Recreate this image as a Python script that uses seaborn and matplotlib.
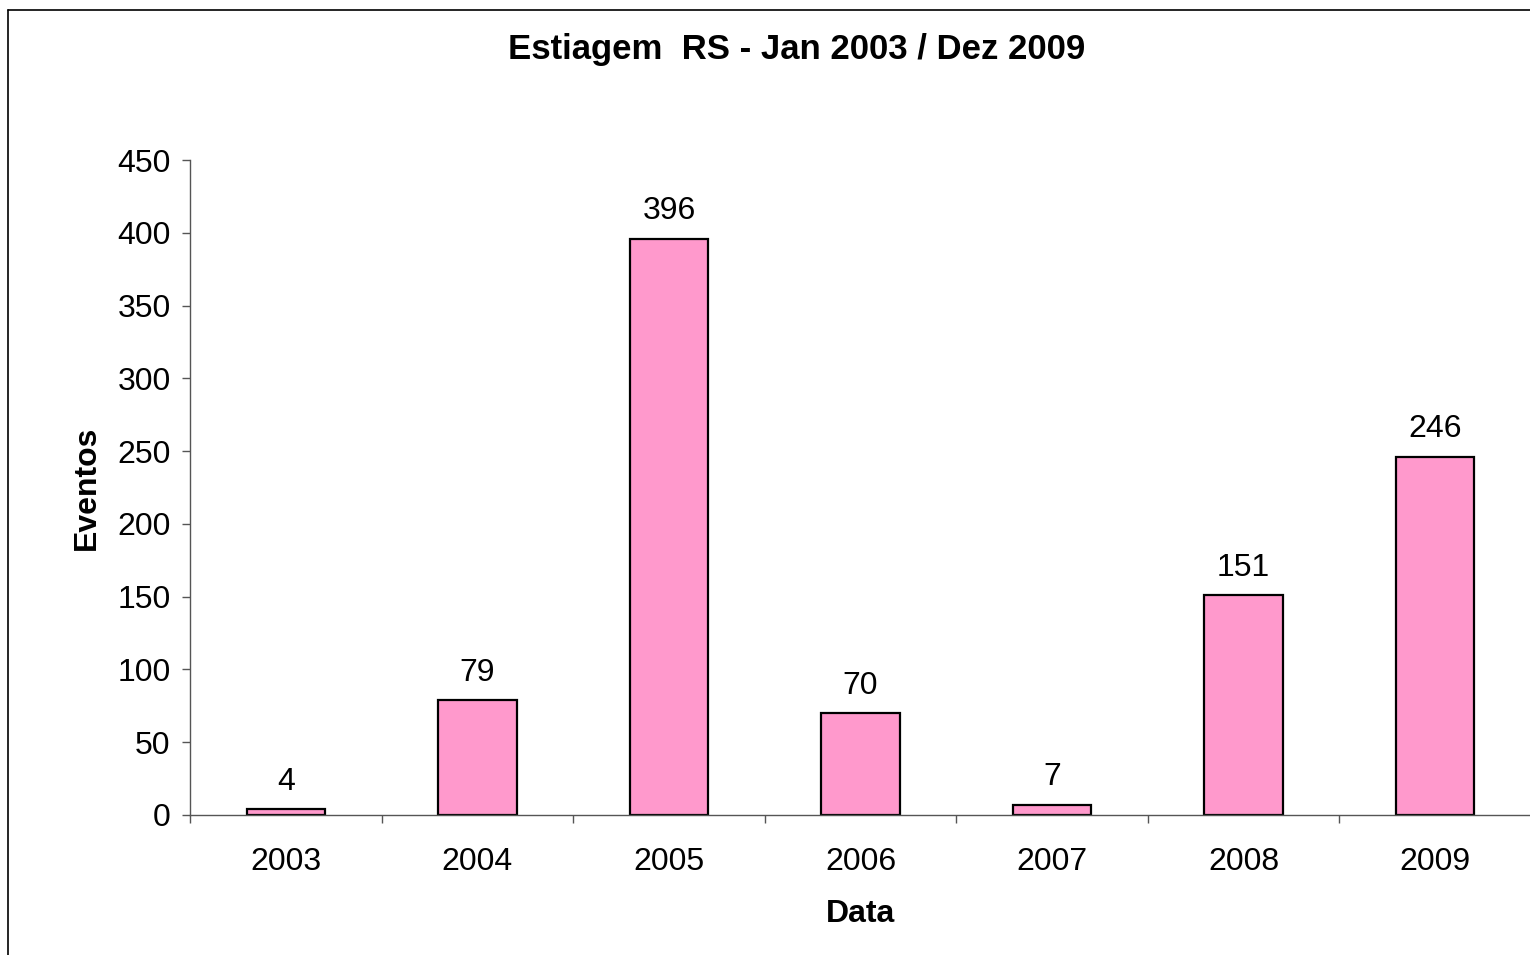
import matplotlib
matplotlib.use("Agg")
import matplotlib.pyplot as plt
import seaborn as sns
import pandas as pd
import numpy as np
from matplotlib.lines import Line2D

years = ["2003", "2004", "2005", "2006", "2007", "2008", "2009"]
eventos = [4, 79, 396, 70, 7, 151, 246]
y_ticks = [0, 50, 100, 150, 200, 250, 300, 350, 400, 450]

sns.set_theme(style="white")
plt.rcParams['font.family'] = ['Liberation Sans', 'DejaVu Sans']
plt.rcParams['text.color'] = 'black'
plt.rcParams['axes.labelcolor'] = 'black'
plt.rcParams['xtick.color'] = 'black'
plt.rcParams['ytick.color'] = 'black'

W, H = 1530, 955
fig = plt.figure(figsize=(W / 100, H / 100), dpi=100)
ax = fig.add_axes([190 / W, 1 - 815 / H, (1531 - 190) / W, (815 - 160) / H])

df = pd.DataFrame({"Data": years, "Eventos": eventos})
sns.barplot(data=df, x="Data", y="Eventos", color="#FF99CC", width=0.41,
            edgecolor="black", linewidth=1.6, saturation=1, ax=ax)

ax.set_xlim(-0.5, len(years) - 0.5)
ax.set_ylim(0, 450)
ax.set_yticks(y_ticks)
ax.tick_params(axis="y", which="major", direction="out", length=6, width=1,
               color="#555555", labelcolor="black", labelsize=23, left=True, pad=8)
ax.tick_params(axis="x", which="major", length=0, labelsize=23, labelcolor="black", pad=23)
ax.set_xticks(np.arange(-0.5, len(years) + 0.5, 1), minor=True)
ax.tick_params(axis="x", which="minor", direction="out", length=6, width=1,
               color="#555555", bottom=True)

for s in ["top", "right"]:
    ax.spines[s].set_visible(False)
for s in ["left", "bottom"]:
    ax.spines[s].set_color("#555555")
    ax.spines[s].set_linewidth(1)

for i, v in enumerate(eventos):
    ax.annotate(str(v), (i, v), xytext=(0, 9), textcoords="offset points",
                ha="center", va="bottom", fontsize=23, color="black")

ax.set_xlabel("Data", fontsize=23, fontweight="bold", labelpad=16, color="black")
ax.set_ylabel("Eventos", fontsize=23, fontweight="bold", labelpad=11, color="black")

fig.text(797 / W, 1 - 49 / H, "Estiagem  RS - Jan 2003 / Dez 2009",
         ha="center", va="center", fontsize=25, fontweight="bold", color="black")

# outer chart frame (left and top edges visible)
fig.add_artist(Line2D([8 / W, 8 / W], [0, 1 - 10 / H], transform=fig.transFigure,
                      color="black", lw=1.2))
fig.add_artist(Line2D([8 / W, 1], [1 - 10 / H, 1 - 10 / H], transform=fig.transFigure,
                      color="black", lw=1.2))

fig.savefig("out.png", dpi=100, facecolor="white")
